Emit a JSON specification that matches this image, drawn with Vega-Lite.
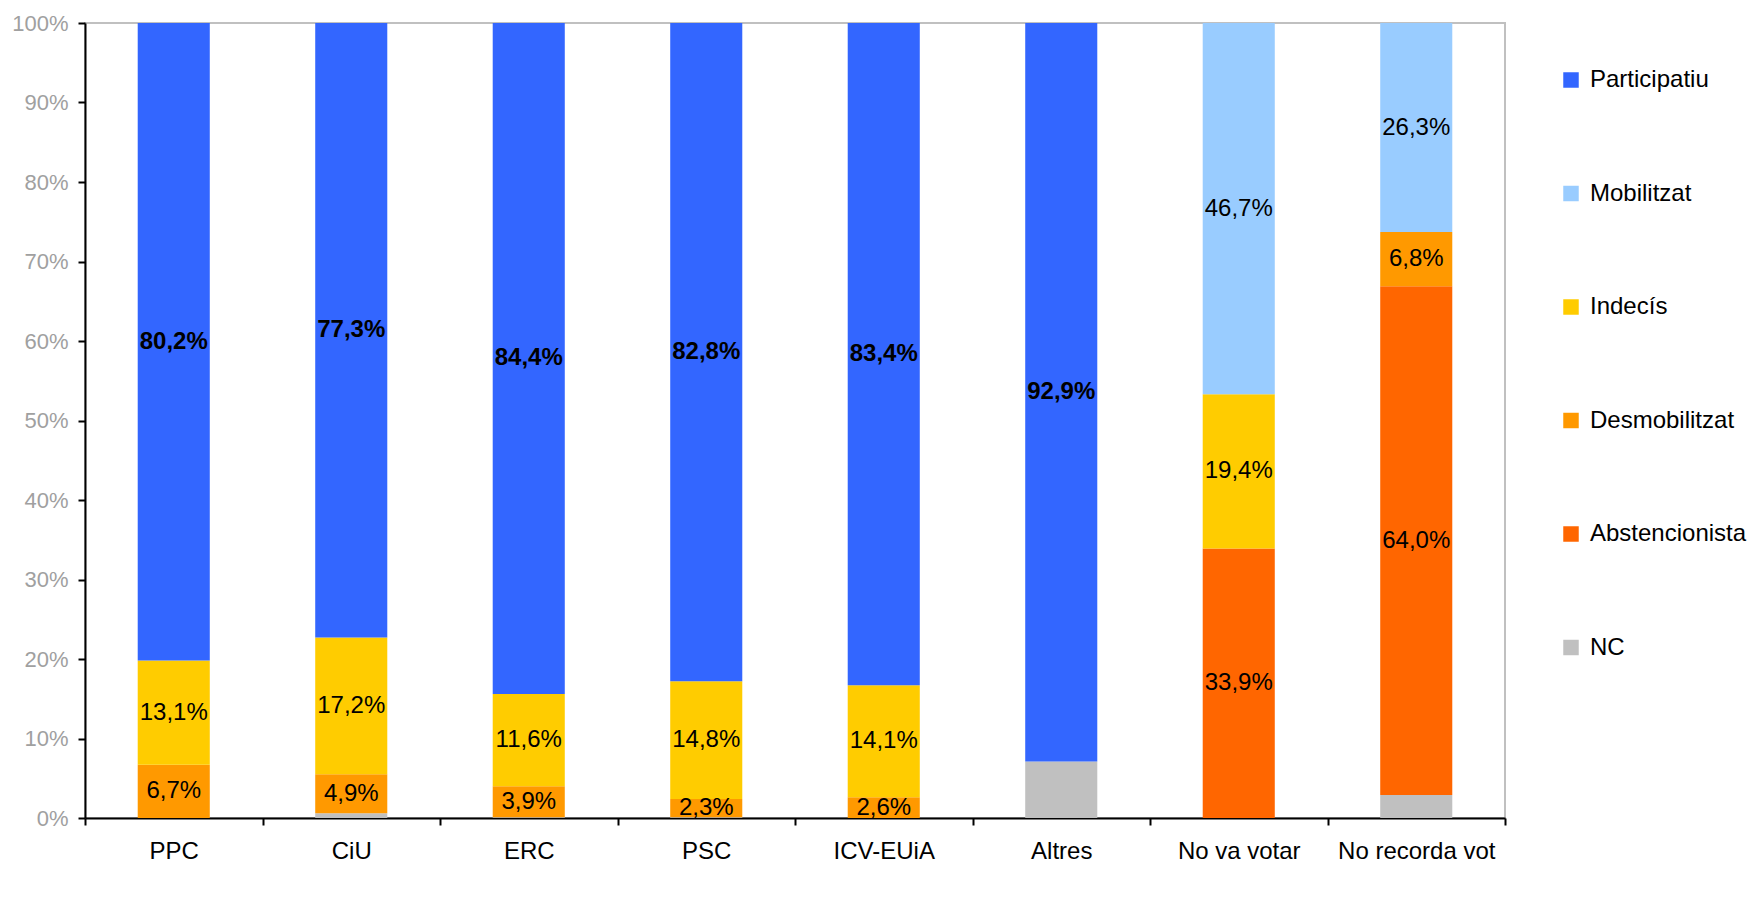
{
  "$schema": "https://vega.github.io/schema/vega-lite/v6.json",
  "width": 1420,
  "height": 795,
  "autosize": {"type": "none"},
  "padding": {"left": 85, "top": 23, "right": 249, "bottom": 103},
  "background": "white",
  "config": {
    "view": {"stroke": "#c0c0c0", "strokeWidth": 2},
    "font": "Liberation Sans"
  },
  "data": {
    "values": [
      {"party": "PPC", "segment": "Desmobilitzat", "value": 6.7},
      {"party": "PPC", "segment": "Indecís", "value": 13.1},
      {"party": "PPC", "segment": "Participatiu", "value": 80.2},
      {"party": "CiU", "segment": "NC", "value": 0.6},
      {"party": "CiU", "segment": "Desmobilitzat", "value": 4.9},
      {"party": "CiU", "segment": "Indecís", "value": 17.2},
      {"party": "CiU", "segment": "Participatiu", "value": 77.3},
      {"party": "ERC", "segment": "NC", "value": 0.1},
      {"party": "ERC", "segment": "Desmobilitzat", "value": 3.9},
      {"party": "ERC", "segment": "Indecís", "value": 11.6},
      {"party": "ERC", "segment": "Participatiu", "value": 84.4},
      {"party": "PSC", "segment": "NC", "value": 0.1},
      {"party": "PSC", "segment": "Desmobilitzat", "value": 2.3},
      {"party": "PSC", "segment": "Indecís", "value": 14.8},
      {"party": "PSC", "segment": "Participatiu", "value": 82.8},
      {"party": "ICV-EUiA", "segment": "Desmobilitzat", "value": 2.6},
      {"party": "ICV-EUiA", "segment": "Indecís", "value": 14.1},
      {"party": "ICV-EUiA", "segment": "Participatiu", "value": 83.4},
      {"party": "Altres", "segment": "NC", "value": 7.1},
      {"party": "Altres", "segment": "Participatiu", "value": 92.9},
      {"party": "No va votar", "segment": "Abstencionista", "value": 33.9},
      {"party": "No va votar", "segment": "Indecís", "value": 19.4},
      {"party": "No va votar", "segment": "Mobilitzat", "value": 46.7},
      {"party": "No recorda vot", "segment": "NC", "value": 2.9},
      {"party": "No recorda vot", "segment": "Abstencionista", "value": 64.0},
      {"party": "No recorda vot", "segment": "Desmobilitzat", "value": 6.8},
      {"party": "No recorda vot", "segment": "Mobilitzat", "value": 26.3}
    ]
  },
  "transform": [
    {"calculate": "indexof(['NC','Abstencionista','Desmobilitzat','Indecís','Mobilitzat','Participatiu'], datum.segment)", "as": "ord"},
    {"stack": "value", "groupby": ["party"], "sort": [{"field": "ord", "order": "ascending"}], "as": ["v0", "v1"]},
    {"calculate": "(datum.v0 + datum.v1) / 2", "as": "mid"},
    {"calculate": "replace(format(datum.value, '.1f'), '.', ',') + '%'", "as": "label"}
  ],
  "encoding": {
    "x": {
      "field": "party",
      "type": "nominal",
      "sort": ["PPC", "CiU", "ERC", "PSC", "ICV-EUiA", "Altres", "No va votar", "No recorda vot"],
      "scale": {"paddingInner": 0, "paddingOuter": 0},
      "axis": {
        "title": null,
        "labelAngle": 0,
        "tickBand": "extent",
        "domainColor": "black",
        "domainWidth": 2,
        "tickColor": "black",
        "tickWidth": 2,
        "tickSize": 7,
        "labelPadding": 14,
        "labelFontSize": 24,
        "labelColor": "black",
        "labelFont": "Liberation Sans"
      }
    }
  },
  "layer": [
    {
      "mark": {"type": "bar", "width": {"band": 0.406}},
      "encoding": {
        "y": {
          "field": "v0",
          "type": "quantitative",
          "scale": {"domain": [0, 100], "clamp": true, "nice": false},
          "axis": {
            "title": null,
            "values": [0, 10, 20, 30, 40, 50, 60, 70, 80, 90, 100],
            "labelExpr": "datum.value + '%'",
            "grid": false,
            "domainColor": "black",
            "domainWidth": 2,
            "tickColor": "black",
            "tickWidth": 2,
            "tickSize": 7,
            "labelPadding": 10,
            "labelFontSize": 22,
            "labelColor": "#a0a0a0",
            "labelFont": "Liberation Sans"
          }
        },
        "y2": {"field": "v1"},
        "color": {
          "field": "segment",
          "type": "nominal",
          "scale": {
            "domain": ["Participatiu", "Mobilitzat", "Indecís", "Desmobilitzat", "Abstencionista", "NC"],
            "range": ["#3366FF", "#99CCFF", "#FFCC00", "#FF9900", "#FF6600", "#C0C0C0"]
          },
          "legend": {
            "title": null,
            "orient": "none",
            "legendX": 1474,
            "legendY": 45,
            "padding": 0,
            "symbolType": "square",
            "symbolSize": 240,
            "symbolStrokeWidth": 0,
            "symbolOpacity": 1,
            "labelFontSize": 24,
            "labelFont": "Liberation Sans",
            "labelColor": "black",
            "labelOffset": 7,
            "rowPadding": 89.5,
            "labelLimit": 300
          }
        }
      }
    },
    {
      "transform": [{"filter": "datum.segment != 'NC' && datum.segment != 'Participatiu'"}],
      "mark": {"type": "text", "fontSize": 24, "font": "Liberation Sans", "color": "black", "baseline": "middle", "align": "center"},
      "encoding": {
        "y": {"field": "mid", "type": "quantitative"},
        "text": {"field": "label"}
      }
    },
    {
      "transform": [{"filter": "datum.segment == 'Participatiu'"}],
      "mark": {"type": "text", "fontSize": 24, "font": "Liberation Sans", "fontWeight": "bold", "color": "black", "baseline": "middle", "align": "center"},
      "encoding": {
        "y": {"field": "mid", "type": "quantitative"},
        "text": {"field": "label"}
      }
    }
  ]
}
